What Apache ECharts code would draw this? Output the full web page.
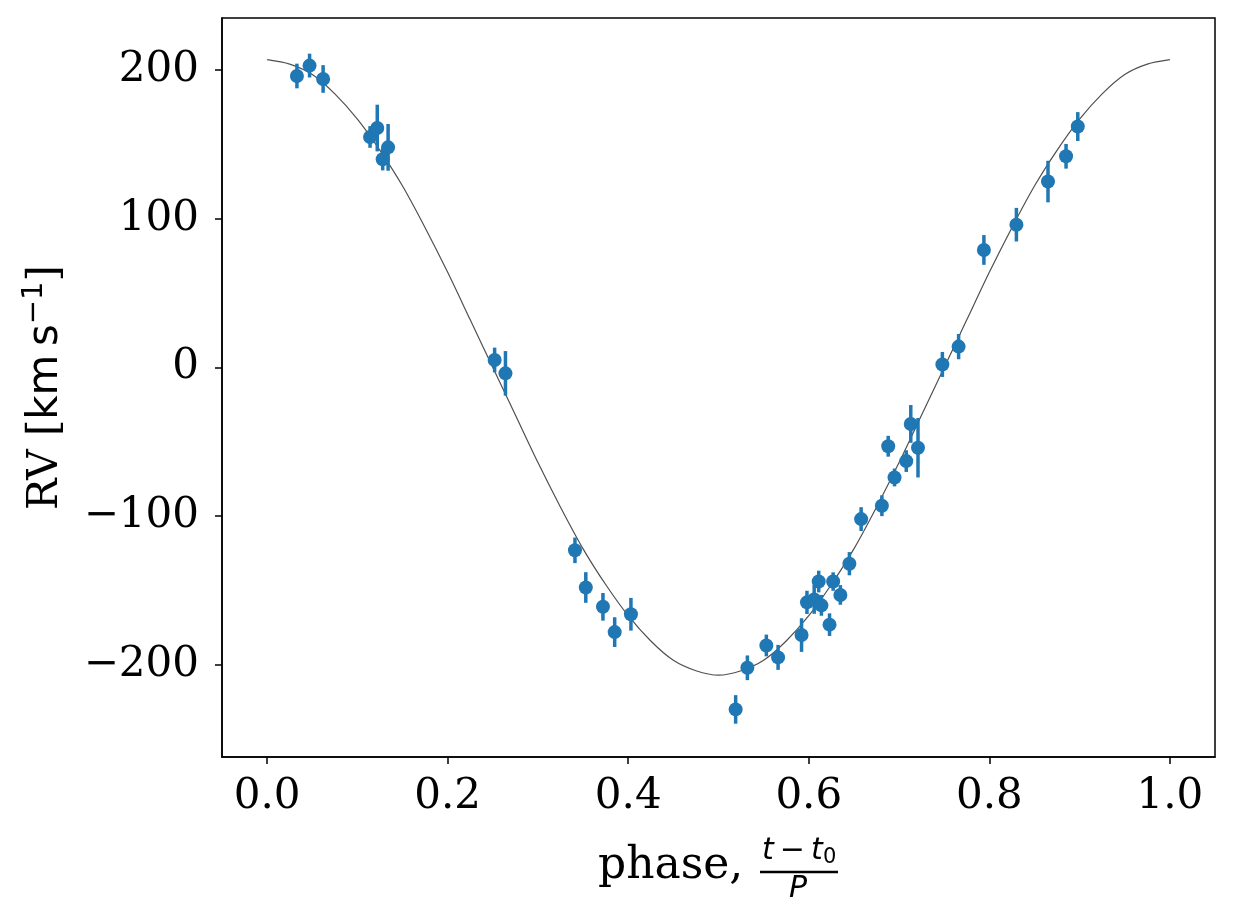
<!DOCTYPE html>
<html>
<head>
<meta charset="utf-8">
<script src="https://cdn.jsdelivr.net/npm/echarts@6/dist/echarts.min.js"></script>
<style>
html,body{margin:0;padding:0;background:#fff;}
#container{width:1234px;height:921px;}
</style>
</head>
<body>
<div id="container"></div>
<script>
// measured radial velocities, folded on the orbital phase
var phase = [0.033, 0.047, 0.062, 0.114, 0.122, 0.128, 0.134, 0.252, 0.264,
	0.341, 0.353, 0.372, 0.385, 0.403, 0.519, 0.532, 0.553, 0.566, 0.592,
	0.598, 0.606, 0.614, 0.611, 0.627, 0.635, 0.623, 0.645, 0.658, 0.681,
	0.688, 0.695, 0.708, 0.713, 0.721, 0.748, 0.766, 0.794, 0.830, 0.865,
	0.885, 0.898];
var rv = [196, 203, 194, 155, 161, 140, 148, 5, -4,
	-123, -148, -161, -178, -166, -230, -202, -187, -195, -180,
	-158, -156, -160, -144, -144, -153, -173, -132, -102, -93,
	-53, -74, -63, -38, -54, 2, 14, 79, 96, 125,
	142, 162];
var rvErr = [8.3, 8, 9.3, 7.3, 15.7, 7.5, 15.7, 8.3, 15,
	8.6, 10.3, 9.3, 10, 11, 9.6, 8.3, 7.3, 8.4, 11.3,
	7.8, 9.7, 7, 7.3, 6.2, 6.6, 7.6, 7.8, 8, 7,
	7, 6, 7.3, 12.7, 20, 8.4, 8.5, 10, 11.3, 14,
	8.3, 9.7];

// fitted model curve
var modelPhase = [0, 0.025, 0.05, 0.075, 0.1, 0.125, 0.15, 0.175, 0.2, 0.225,
	0.25, 0.275, 0.3, 0.325, 0.35, 0.375, 0.4, 0.425, 0.45, 0.475,
	0.5, 0.525, 0.55, 0.575, 0.6, 0.625, 0.65, 0.675, 0.7, 0.725,
	0.75, 0.775, 0.8, 0.825, 0.85, 0.875, 0.9, 0.925, 0.95, 0.975, 1.0];
var modelRv = [207, 204, 197, 184, 167, 146, 122, 94, 64, 32,
	0, -32, -64, -94, -122, -146, -167, -184, -197, -204,
	-207, -204, -197, -184, -167, -146, -122, -94, -64, -32,
	0, 32, 64, 94, 122, 146, 167, 184, 197, 204, 207];

var xTicks = [0, 0.2, 0.4, 0.6, 0.8, 1.0];
var yTicks = [-200, -100, 0, 100, 200];

var dom = document.getElementById("container");
var myChart = echarts.init(dom);
var serif = '"DejaVu Serif", serif';
var sans = '"DejaVu Sans", sans-serif';
var blue = '#1f77b4';

var option = {
	backgroundColor: '#fff',
	animation: false,
	grid: {
		left: 222,
		right: 19,
		top: 18,
		bottom: 164,
		show: true,
		borderColor: '#000',
		borderWidth: 1.5
	},
	xAxis: {
		type: 'value',
		min: -0.05,
		max: 1.05,
		splitLine: {show: false},
		axisLine: {onZero: false, lineStyle: {color: '#000', width: 1.5}},
		axisTick: {show: true, length: 7, lineStyle: {color: '#000', width: 1.5}, customValues: xTicks},
		axisLabel: {
			customValues: xTicks,
			fontFamily: serif,
			fontSize: 42,
			color: '#000',
			margin: 19,
			formatter: function(v) { return v.toFixed(1); }
		}
	},
	yAxis: {
		type: 'value',
		min: -262,
		max: 235,
		name: '{a|RV [}{b|km\u2009s}{c|\u22121}{a|]}',
		nameLocation: 'middle',
		nameGap: 150,
		nameTextStyle: {
			color: '#000',
			rich: {
				a: {fontFamily: serif, fontSize: 42, lineHeight: 52, color: '#000'},
				b: {fontFamily: sans, fontSize: 42, lineHeight: 52, color: '#000'},
				c: {fontFamily: sans, fontSize: 29, lineHeight: 29, verticalAlign: 'top', color: '#000'}
			}
		},
		splitLine: {show: false},
		axisLine: {show: true, onZero: false, lineStyle: {color: '#000', width: 1.5}},
		axisTick: {show: true, length: 7, lineStyle: {color: '#000', width: 1.5}, customValues: yTicks},
		axisLabel: {
			customValues: yTicks,
			fontFamily: serif,
			fontSize: 42,
			color: '#000',
			margin: 23,
			formatter: function(v) { return v < 0 ? '\u2212' + (-v) : String(v); }
		}
	},
	graphic: [
		{type: 'text', left: 598, top: 845, style: {text: 'phase,', font: '44px ' + serif, fill: '#000'}},
		{type: 'text', left: 762, top: 836, style: {text: 't\u2009\u2212\u2009t', font: 'italic 30px ' + sans, fill: '#000'}},
		{type: 'text', left: 823, top: 847, style: {text: '0', font: '21px ' + sans, fill: '#000'}},
		{type: 'line', shape: {x1: 760, y1: 872, x2: 838, y2: 872}, style: {stroke: '#000', lineWidth: 2.5}},
		{type: 'text', left: 789, top: 874, style: {text: 'P', font: 'italic 30px ' + sans, fill: '#000'}}
	],
	series: [
		{
			name: 'model',
			type: 'line',
			data: modelPhase.map(function(p, i) { return [p, modelRv[i]]; }),
			smooth: 0.3,
			showSymbol: false,
			lineStyle: {color: '#505050', width: 1.2},
			z: 1
		},
		{
			name: 'err',
			type: 'custom',
			data: phase.map(function(p, i) { return [p, rv[i], rvErr[i]]; }),
			renderItem: function(params, api) {
				var x = api.value(0), y = api.value(1), e = api.value(2);
				var a = api.coord([x, y + e]);
				var b = api.coord([x, y - e]);
				return {
					type: 'line',
					shape: {x1: a[0], y1: a[1], x2: b[0], y2: b[1]},
					style: {stroke: blue, lineWidth: 3.5}
				};
			},
			z: 2
		},
		{
			name: 'RV',
			type: 'scatter',
			data: phase.map(function(p, i) { return [p, rv[i]]; }),
			symbol: 'circle',
			symbolSize: 14,
			itemStyle: {color: blue, opacity: 1},
			z: 3
		}
	]
};
myChart.setOption(option, true);
</script>
</body>
</html>
